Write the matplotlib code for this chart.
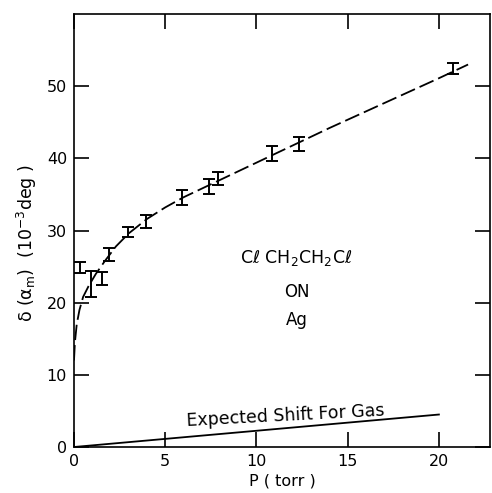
import numpy as np
import matplotlib.pyplot as plt

# measured shift vs pressure, with error half-widths
p_data = [0.31, 0.92, 1.54, 1.92, 2.97, 3.94, 5.93, 7.42, 7.91, 10.84, 12.35, 20.77]
shift_data = [24.9, 22.6, 23.4, 26.7, 29.8, 31.3, 34.6, 36.1, 37.2, 40.7, 42.0, 52.4]
shift_err = [0.8, 1.8, 0.9, 0.9, 0.75, 0.9, 1.0, 1.0, 0.95, 1.0, 1.0, 0.75]

# smooth trend drawn through the points
p_curve = [0, 0.05, 0.15, 0.3, 0.5, 0.8, 1.2, 1.7, 2.3, 3.0, 4.0, 5.0, 6.0,
           8.0, 10.0, 12.0, 14.0, 16.0, 18.0, 20.0, 21.6]
shift_curve = [12.0, 14.5, 17.0, 19.0, 20.8, 22.3, 24.0, 25.8, 27.8, 29.6, 31.6,
               33.2, 34.6, 37.0, 39.4, 41.8, 44.2, 46.5, 48.8, 51.1, 53.0]

# expected shift for the gas alone
p_gas = [0, 20]
shift_gas = [0, 4.5]

x_ticks = [0, 5, 10, 15, 20]
y_ticks = [0, 10, 20, 30, 40, 50]

fig = plt.figure(figsize=(4.92, 4.93), dpi=100)
ax = fig.add_axes([0.1504, 0.0933, 0.8455, 0.8783])

ax.plot(p_curve, shift_curve, color="black", lw=1.3, linestyle=(0, (8.5, 2.8)))
ax.errorbar(p_data, shift_data, yerr=shift_err, fmt="none", ecolor="black",
            elinewidth=1.4, capsize=4.5, capthick=1.4)
ax.plot(p_gas, shift_gas, color="black", lw=1.3)

ax.text(11.6, 4.3, "Expected Shift For Gas", fontsize=12.5, rotation=3,
        ha="center", va="center")
ax.text(12.2, 26.2, "Cℓ CH$_2$CH$_2$Cℓ", fontsize=12.5, ha="center", va="center")
ax.text(12.2, 21.5, "ON", fontsize=12, ha="center", va="center")
ax.text(12.2, 17.6, "Ag", fontsize=12, ha="center", va="center")

ax.set_xlim(0, 22.8)
ax.set_ylim(0, 60)
ax.set_xticks(x_ticks)
ax.set_yticks(y_ticks)
ax.tick_params(direction="in", length=11, width=1.2, labelsize=11.5,
               top=True, right=True, pad=5)
for s in ax.spines.values():
    s.set_linewidth(1.2)

ax.set_xlabel("P ( torr )", fontsize=11.5, labelpad=3)
ax.set_ylabel("δ (α$_\\mathrm{m}$)  (10$^{-3}$deg )", fontsize=12.5)
ax.yaxis.set_label_coords(-0.085, 0.47)

fig.savefig("out.png", dpi=100)
